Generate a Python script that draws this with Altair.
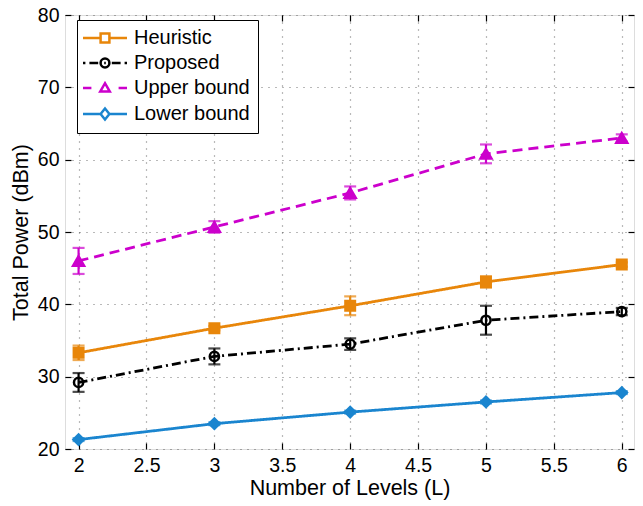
import altair as alt
import pandas as pd

levels = [2, 3, 4, 5, 6]
series_names = ["Heuristic", "Proposed", "Upper bound", "Lower bound"]
heuristic = [33.3, 36.7, 39.8, 43.1, 45.5]
heuristic_err = [1.0, 0.3, 1.3, 0.8, 0.3]
proposed = [29.2, 32.8, 34.5, 37.8, 39.0]
proposed_err = [1.3, 1.1, 0.8, 2.0, 0.5]
upper = [46.0, 50.7, 55.4, 60.8, 63.0]
upper_err = [1.8, 0.8, 0.9, 1.3, 0.5]
lower = [21.3, 23.5, 25.1, 26.5, 27.8]
lower_err = [0.2, 0.2, 0.2, 0.2, 0.2]

colors = ["#E8860A", "#000000", "#CC00CC", "#1A85CF"]
dashes = [[1, 0], [9, 4, 2, 4], [10, 6], [1, 0]]
shapes = ["square", "circle", "triangle-up", "diamond"]
filled = [True, False, True, True]
sizes = [90, 85, 120, 105]

# legend symbol paths: line sample + marker, in units of 8 px (half-length 22 px)
legend_paths = [
    "M-2.75,0H-0.55M0.55,0H2.75M-0.55,-0.55H0.55V0.55H-0.55Z",
    "M-2.75,0H-2.45M-1.95,0H-0.85M-0.1,0H0.1M0.85,0H1.95M2.45,0H2.75"
    "M0.55,0A0.55,0.55,0,1,1,-0.55,0A0.55,0.55,0,1,1,0.55,0Z",
    "M-2.75,0H-1.7M1.7,0H2.75M-0.6,0.45L0,-0.6L0.6,0.45Z",
    "M-2.75,0H-0.55M0.55,0H2.75M0,-0.7L0.55,0L0,0.7L-0.55,0Z",
]

rows = []
for name, vals, errs in [
    ("Heuristic", heuristic, heuristic_err),
    ("Proposed", proposed, proposed_err),
    ("Upper bound", upper, upper_err),
    ("Lower bound", lower, lower_err),
]:
    for L, v, e in zip(levels, vals, errs):
        rows.append({"L": L, "value": v, "lo": v - e, "hi": v + e, "series": name})
df = pd.DataFrame(rows)

W, H = 569, 434
FONT = "Liberation Sans"
xdom = [1.9, 6.09]
ydom = [20, 80]
xticks = [2, 2.5, 3, 3.5, 4, 4.5, 5, 5.5, 6]
yticks = [20, 30, 40, 50, 60, 70, 80]

xs = alt.Scale(domain=xdom, nice=False, zero=False)
ys = alt.Scale(domain=ydom, nice=False, zero=False)
cscale = alt.Scale(domain=series_names, range=colors)

base = alt.Chart(df)

grid_kw = dict(grid=True, gridDash=[1, 6], gridColor="#000000", gridOpacity=0.55,
               gridWidth=1.2)
text_kw = dict(labelFontSize=19.5, titleFontSize=21.5, labelColor="#000", titleColor="#000",
               labelFont=FONT, titleFont=FONT, titleFontWeight="normal")

main_x_axis = alt.Axis(values=xticks, format="~g", title="Number of Levels (L)",
                       ticks=False, domain=False, labelPadding=7, titlePadding=3,
                       **grid_kw, **text_kw)
main_y_axis = alt.Axis(values=yticks, title="Total Power (dBm)", ticks=False,
                       domain=False, labelPadding=6, titlePadding=5,
                       **grid_kw, **text_kw)

# grid / main axes carrier (invisible)
axes_layer = base.mark_point(opacity=0).encode(
    x=alt.X("L:Q", scale=xs, axis=main_x_axis),
    y=alt.Y("value:Q", scale=ys, axis=main_y_axis),
)

series_layers = []
for name, col, dash in zip(series_names, colors, dashes):
    sub = base.transform_filter(alt.datum.series == name)
    series_layers.append(
        sub.mark_line(stroke=col, strokeWidth=2.8, strokeDash=dash).encode(
            x=alt.X("L:Q", scale=xs, axis=None),
            y=alt.Y("value:Q", scale=ys, axis=None),
        )
    )
for name, col in zip(series_names, colors):
    sub = base.transform_filter(alt.datum.series == name)
    series_layers.append(
        sub.mark_errorbar(ticks=True, size=12, thickness=2.2, color=col).encode(
            x=alt.X("L:Q", scale=xs, axis=None),
            y=alt.Y("lo:Q", scale=ys, axis=None),
            y2="hi:Q",
        )
    )
for name, shp, fl, sz, col in zip(series_names, shapes, filled, sizes, colors):
    sub = base.transform_filter(alt.datum.series == name)
    series_layers.append(
        sub.mark_point(
            shape=shp, filled=False, fill=col if fl else "transparent",
            stroke=col, strokeWidth=2.5, size=sz, opacity=1,
        ).encode(
            x=alt.X("L:Q", scale=xs, axis=None),
            y=alt.Y("value:Q", scale=ys, axis=None),
        )
    )

tick_kw = dict(labels=False, domain=False, grid=False, tickSize=6,
               tickColor="#000", tickWidth=1.2, title=None)


def tick_axis(orient, offset, vals):
    return alt.Axis(orient=orient, offset=offset, values=vals, **tick_kw)


tick_a = base.mark_point(opacity=0).encode(
    x=alt.X("L:Q", scale=xs, axis=tick_axis("top", -H, xticks)),
    y=alt.Y("value:Q", scale=ys, axis=tick_axis("right", -W, yticks)),
)

tick_b = base.mark_point(opacity=0).encode(
    x=alt.X("L:Q", scale=xs, axis=tick_axis("bottom", -H, xticks)),
    y=alt.Y("value:Q", scale=ys, axis=tick_axis("left", -W, yticks)),
)

legend_def = alt.Legend(
    title=None, orient="none", legendX=12, legendY=5, direction="vertical",
    symbolSize=256, symbolStrokeWidth=2.5, symbolOpacity=1, symbolOffset=10,
    symbolFillColor="white", labelFontSize=20, labelFont=FONT, labelColor="#000",
    labelOffset=19, rowPadding=5, padding=8, strokeColor="#000", fillColor="white",
    labelLimit=300)

legend_layer = base.mark_point(opacity=0, filled=False).encode(
    x=alt.X("L:Q", scale=xs, axis=None),
    y=alt.Y("value:Q", scale=ys, axis=None),
    color=alt.Color("series:N", scale=cscale, legend=legend_def),
    shape=alt.Shape("series:N", scale=alt.Scale(domain=series_names, range=legend_paths),
                    legend=legend_def),
)

chart = alt.layer(axes_layer, *series_layers, tick_a, tick_b, legend_layer).resolve_axis(
    x="independent", y="independent"
).properties(
    width=W, height=H,
    autosize=alt.AutoSizeParams(type="none"),
    padding={"left": 57, "top": 7, "right": 1, "bottom": 56},
).configure_view(stroke="#000", strokeWidth=1.5).configure(background="white")

chart.save("out.html", embed_options={"renderer": "svg", "actions": False})
